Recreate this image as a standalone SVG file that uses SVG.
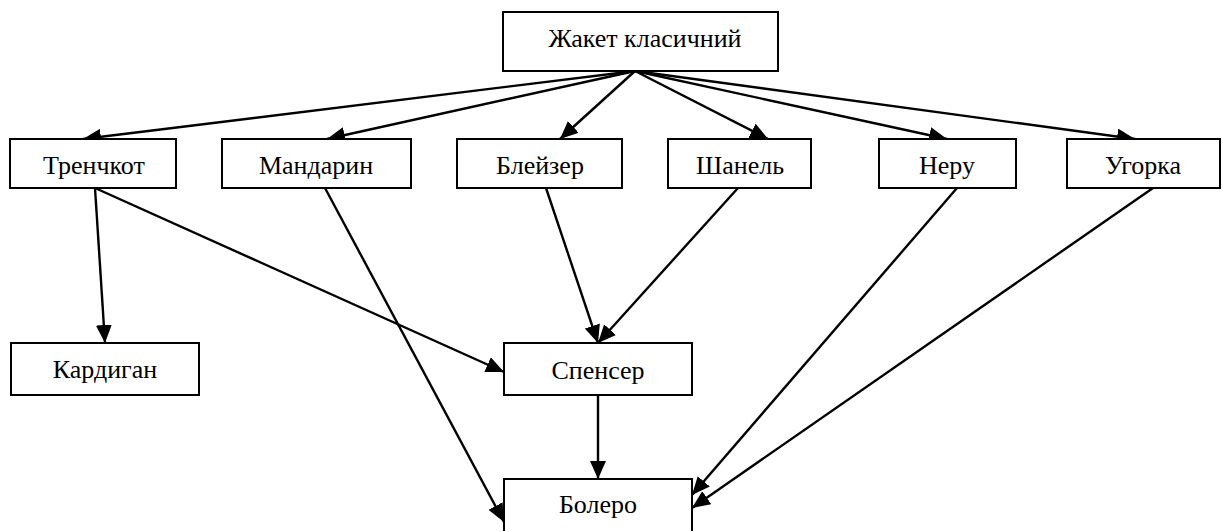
<svg xmlns="http://www.w3.org/2000/svg" width="1223" height="531" viewBox="0 0 1223 531">
<style>
.box{fill:#fff;stroke:#000;stroke-width:2}
.lbl{font-family:"Liberation Serif","Times New Roman",serif;font-size:26px;fill:#000;text-anchor:middle}
.edge{stroke:#000;stroke-width:2.4;fill:none;marker-end:url(#ah)}
</style>
<defs>
<marker id="ah" markerUnits="userSpaceOnUse" markerWidth="19" markerHeight="16" refX="18" refY="8" orient="auto">
<path d="M0,0 L18,8 L0,16 z" fill="#000"/>
</marker>
</defs>
<rect width="1223" height="531" fill="#fff"/>
<g id="edges">
<line class="edge" x1="635" y1="71" x2="83" y2="139"/>
<line class="edge" x1="635" y1="71" x2="327" y2="139"/>
<line class="edge" x1="635" y1="71" x2="560" y2="139"/>
<line class="edge" x1="635" y1="71" x2="768" y2="139"/>
<line class="edge" x1="635" y1="71" x2="947" y2="139"/>
<line class="edge" x1="635" y1="71" x2="1135" y2="139"/>
<line class="edge" x1="95" y1="188" x2="105" y2="343"/>
<line class="edge" x1="95" y1="188" x2="504" y2="372"/>
<line class="edge" x1="325" y1="188" x2="504" y2="522"/>
<line class="edge" x1="546" y1="188" x2="598" y2="343"/>
<line class="edge" x1="738" y1="188" x2="598" y2="343"/>
<line class="edge" x1="957" y1="188" x2="692" y2="495"/>
<line class="edge" x1="1153" y1="188" x2="692" y2="508"/>
<line class="edge" x1="598" y1="395" x2="598" y2="479"/>
</g>
<g id="n-zhaket"><rect class="box" x="503" y="12" width="275" height="59"/><text class="lbl" x="645" y="47">Жакет класичний</text></g>
<g id="n-trenchkot"><rect class="box" x="10" y="139" width="166" height="49"/><text class="lbl" x="94" y="174">Тренчкот</text></g>
<g id="n-mandaryn"><rect class="box" x="222" y="139" width="189" height="49"/><text class="lbl" x="316" y="174">Мандарин</text></g>
<g id="n-bleizer"><rect class="box" x="457" y="139" width="165" height="49"/><text class="lbl" x="540" y="174">Блейзер</text></g>
<g id="n-shanel"><rect class="box" x="668" y="139" width="143" height="49"/><text class="lbl" x="740" y="174">Шанель</text></g>
<g id="n-neru"><rect class="box" x="879" y="139" width="137" height="49"/><text class="lbl" x="947" y="174">Неру</text></g>
<g id="n-ugorka"><rect class="box" x="1067" y="139" width="153" height="49"/><text class="lbl" x="1143" y="174">Угорка</text></g>
<g id="n-kardygan"><rect class="box" x="11" y="343" width="188" height="52"/><text class="lbl" x="105" y="378">Кардиган</text></g>
<g id="n-spenser"><rect class="box" x="504" y="343" width="188" height="52"/><text class="lbl" x="598" y="379">Спенсер</text></g>
<g id="n-bolero"><rect class="box" x="504" y="479" width="188" height="60"/><text class="lbl" x="598" y="513">Болеро</text></g>
</svg>
